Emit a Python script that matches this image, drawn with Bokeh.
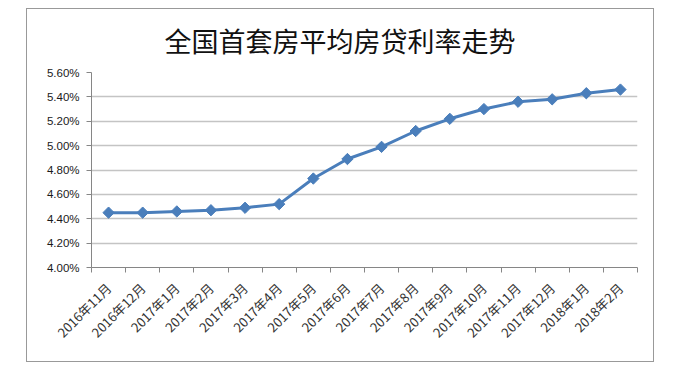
import math
from bokeh.plotting import figure
from bokeh.models import FixedTicker, PrintfTickFormatter, Range1d, InlineStyleSheet
from bokeh.embed import file_html
from bokeh.resources import INLINE

months = ["2016年11月", "2016年12月", "2017年1月", "2017年2月", "2017年3月", "2017年4月",
          "2017年5月", "2017年6月", "2017年7月", "2017年8月", "2017年9月", "2017年10月",
          "2017年11月", "2017年12月", "2018年1月", "2018年2月"]
rates = [4.45, 4.45, 4.46, 4.47, 4.49, 4.52, 4.73, 4.89, 4.99, 5.12, 5.22, 5.30,
         5.36, 5.38, 5.43, 5.46]
y_ticks = [4.0, 4.2, 4.4, 4.6, 4.8, 5.0, 5.2, 5.4, 5.6]
title_text = "全国首套房平均房贷利率走势"

xs = list(range(1, len(months) + 1))

p = figure(width=674, height=373, output_backend="svg", toolbar_location=None,
           x_range=Range1d(0.5, len(months) + 0.5), y_range=Range1d(4.0, 5.6),
           min_border_left=91, min_border_right=37, min_border_top=72, min_border_bottom=106,
           title=title_text)
p.background_fill_color = "white"
p.border_fill_color = "white"
p.outline_line_color = None

p.title.align = "left"
p.title.text_font = "Noto Sans CJK SC"
p.title.text_font_size = "27px"
p.title.text_font_style = "normal"
p.title.text_color = "#111111"
p.title.standoff = 25
p.title.offset = 73

# y axis
p.yaxis.ticker = FixedTicker(ticks=y_ticks)
p.yaxis.formatter = PrintfTickFormatter(format="%.2f%%")
p.yaxis.axis_line_color = "#868686"
p.yaxis.major_tick_line_color = "#868686"
p.yaxis.major_tick_out = 5
p.yaxis.major_tick_in = 0
p.yaxis.minor_tick_line_color = None
p.yaxis.major_label_text_font = "Liberation Sans"
p.yaxis.major_label_text_font_size = "11.5px"
p.yaxis.major_label_text_color = "#1a1a1a"
p.yaxis.major_label_standoff = 7

# x axis
p.xaxis.ticker = FixedTicker(ticks=xs, minor_ticks=[i + 0.5 for i in range(0, len(months) + 1)])
p.xaxis.major_label_overrides = {x: m for x, m in zip(xs, months)}
p.xaxis.major_label_orientation = math.pi / 4
p.xaxis.axis_line_color = "#868686"
p.xaxis.major_tick_line_color = None
p.xaxis.minor_tick_line_color = "#868686"
p.xaxis.minor_tick_out = 5
p.xaxis.minor_tick_in = 0
p.xaxis.major_label_text_font = "Noto Sans CJK SC"
p.xaxis.major_label_text_font_size = "13px"
p.xaxis.major_label_text_color = "#333333"
p.xaxis.major_label_standoff = 12

p.xgrid.grid_line_color = None
p.ygrid.ticker = FixedTicker(ticks=y_ticks)
p.ygrid.grid_line_color = "#c4c4c4"
p.ygrid.grid_line_width = 1.5

p.line(xs, rates, line_color="#4a7ebb", line_width=3)
p.scatter(xs, rates, marker="square", size=8, angle=math.pi / 4,
          fill_color="#4a7ebb", line_color="#4a7ebb", line_width=1)

# outer chart border, as in the spreadsheet chart
p.stylesheets = [InlineStyleSheet(css="""
:host { position: relative; }
:host::after {
  content: "";
  position: absolute;
  left: 26px; top: 8px; width: 628px; height: 354px;
  border: 1px solid #999999;
  pointer-events: none;
  box-sizing: border-box;
}
""")]

open("out.html", "w").write(file_html(p, INLINE))
